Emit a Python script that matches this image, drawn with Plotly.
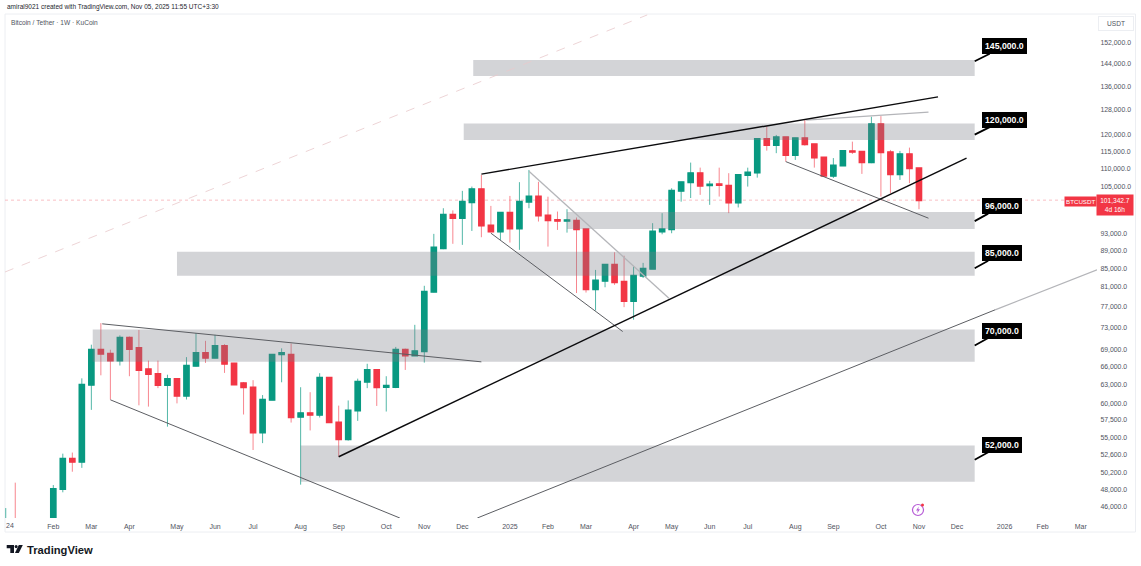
#!/usr/bin/python3

import math
import pandas as pd
import plotly.graph_objects as go

W = 1141
H = 566

# weekly candles, first one is the week of 2024-01-01
weeks = pd.date_range("2024-01-01", periods=97, freq="W-MON")
opens = [42200, 43900, 41700, 41600, 42000, 43000, 48100, 52000, 51600, 62950, 68900, 68200, 67000,
	71050, 69200, 65500, 64700, 62900, 63900, 61200, 66100, 68300, 67500, 69550, 66500, 63200,
	62500, 55650, 60550, 68100, 68000, 57950, 58500, 58250, 64100, 57100, 54700, 58900, 63450,
	65400, 62600, 62600, 68900, 67900, 68650, 80030, 89500, 97570, 96750, 100800, 104250, 94900,
	93450, 98070, 94200, 100950, 102300, 97400, 96300, 96100, 96100, 94000, 80550, 82300, 85770,
	82100, 78150, 83400, 84900, 93450, 94000, 103800, 106150, 108650, 105300, 105600, 105200,
	100700, 108160, 108800, 118670, 116860, 119200, 113880, 118900, 117060, 113100, 107900,
	110800, 115000, 114850, 111760, 123280, 114670, 108370, 114100, 110000]
highs = [45800, 48900, 43000, 42800, 43800, 48600, 52700, 52850, 64000, 69800, 73800, 68900, 71500,
	71300, 72500, 67000, 67000, 64600, 64000, 67600, 71900, 70500, 71600, 69900, 66600, 63400,
	63700, 61300, 68000, 69150, 70000, 62550, 61750, 64850, 64200, 59650, 60450, 63950, 66450,
	65450, 64350, 69400, 69100, 73470, 81250, 92900, 99250, 98700, 103800, 104950, 108150, 99850,
	98100, 102450, 106150, 109550, 106250, 102250, 98400, 99000, 96900, 94100, 84650, 85800, 88600,
	87800, 85400, 86200, 95500, 97990, 104500, 106200, 111650, 110210, 106500, 110200, 108640,
	108200, 110200, 118700, 122500, 119900, 119250, 119000, 124570, 117100, 113150, 112960,
	115100, 117850, 114900, 125670, 125870, 115350, 115060, 116050, 110100]
lows = [40700, 41500, 40500, 38500, 41900, 42500, 47700, 50300, 50800, 59000, 64500, 60600, 66150,
	64350, 59700, 59500, 62400, 56500, 60000, 60600, 66000, 66600, 67400, 64900, 62900, 58300,
	53200, 54150, 60500, 63350, 57100, 48650, 55950, 57850, 57100, 52300, 54500, 57350, 62400,
	59600, 58750, 62400, 65400, 67800, 66650, 79900, 89300, 90550, 90300, 93600, 92100, 93400,
	91450, 90850, 89150, 99250, 95900, 89900, 93850, 93200, 79750, 79850, 76250, 80950, 81450,
	76900, 74450, 82900, 84850, 92800, 93050, 100950, 101900, 102730, 100120, 102280, 98000,
	99450, 104950, 107400, 115150, 114400, 111930, 112420, 116650, 110210, 107560, 107300,
	110750, 114170, 108440, 111480, 102280, 103180, 106770, 105870, 99000]
closes = [43900, 41700, 41600, 42000, 43000, 48100, 52000, 51600, 62950, 68900, 68200, 67000, 71050,
	69050, 65400, 64700, 62900, 63900, 61200, 66100, 68300, 67500, 69550, 66450, 63000, 62550,
	55650, 60550, 68000, 68300, 57900, 58500, 58250, 64100, 57150, 54700, 58900, 63450, 65400,
	62550, 62800, 68900, 67900, 68650, 80030, 89670, 97570, 96750, 100900, 104250, 94900, 93450,
	98070, 94200, 100950, 102300, 97400, 96200, 96100, 96200, 94000, 80550, 82350, 85770, 82000,
	78150, 83400, 84900, 93450, 94000, 103800, 106150, 108650, 105200, 105500, 105400, 100700,
	108160, 108800, 118670, 116860, 119200, 113880, 118900, 117060, 113100, 107900, 110800,
	115060, 114850, 111760, 123280, 114670, 108370, 114100, 110000, 101342]
last_price = 101342

# grey supply/demand zones
zone_starts = ["2024-12-10", "2024-12-03", "2025-02-17", "2024-05-06", "2024-03-05", "2024-08-05"]
zone_end = "2025-12-14"
zone_tops = [145470, 123530, 98320, 88690, 72600, 53830]
zone_bottoms = [139600, 118380, 94100, 83370, 66780, 49010]
zone_labels = ["145,000.0", "120,000.0", "96,000.0", "85,000.0", "70,000.0", "52,000.0"]
label_tips = [145000, 120000, 96000, 85000, 69650, 51880]

# trend lines: start date, start price, end date, end price
black_lines = [
	("2024-09-02", 52280, "2025-12-08", 112960),
	("2024-12-16", 108370, "2025-11-17", 132270),
]
dark_lines = [
	("2024-03-12", 73660, "2024-12-16", 66780),
	("2024-03-18", 60550, "2024-10-17", 44640),
	("2024-12-23", 93070, "2025-03-30", 72210),
	("2025-07-28", 111930, "2025-11-10", 96730),
	("2024-12-13", 44640, "2025-12-29", 76370),
]
light_lines = [
	("2025-01-20", 109200, "2025-05-03", 78700),
	("2025-08-12", 124570, "2025-11-10", 127140),
	("2025-12-29", 76370, "2026-03-14", 84660),
]
dashed_line = ("2023-12-31 11:00", 84200, "2025-04-17", 163400)

price_ticks = [152000, 144000, 136000, 128000, 120000, 115000, 110000, 105000, 93000, 89000, 85000,
	81000, 77000, 73000, 69000, 66000, 63000, 60000, 57500, 55000, 52600, 50200, 48000, 46000]
price_labels = ["152,000.0", "144,000.0", "136,000.0", "128,000.0", "120,000.0", "115,000.0",
	"110,000.0", "105,000.0", "93,000.0", "89,000.0", "85,000.0", "81,000.0", "77,000.0",
	"73,000.0", "69,000.0", "66,000.0", "63,000.0", "60,000.0", "57,500.0", "55,000.0",
	"52,600.0", "50,200.0", "48,000.0", "46,000.0"]
month_ticks = ["2024-02-05", "2024-03-04", "2024-04-01", "2024-05-06", "2024-06-03", "2024-07-01",
	"2024-08-05", "2024-09-02", "2024-10-07", "2024-11-04", "2024-12-02", "2025-01-06",
	"2025-02-03", "2025-03-03", "2025-04-07", "2025-05-05", "2025-06-02", "2025-06-30",
	"2025-08-04", "2025-09-01", "2025-10-06", "2025-11-03", "2025-12-01", "2026-01-05",
	"2026-02-02", "2026-03-02"]
month_labels = ["Feb", "Mar", "Apr", "May", "Jun", "Jul", "Aug", "Sep", "Oct", "Nov", "Dec", "2025",
	"Feb", "Mar", "Apr", "May", "Jun", "Jul", "Aug", "Sep", "Oct", "Nov", "Dec", "2026", "Feb", "Mar"]

GREEN = "#089981"
RED = "#F23645"
TEXT = "#50535e"
FONT = "Liberation Sans"

def px(x):
	return x / W

def py(y):
	return 1 - y / H

def trend_shape(line, color, width, dash="solid"):
	return dict(type="line", x0=line[0], y0=line[1], x1=line[2], y1=line[3], xref="x", yref="y",
		layer="above", line=dict(color=color, width=width, dash=dash))

def box_shape(x0, y0, x1, y1, **kw):
	return dict(type="rect", xref="paper", yref="paper", x0=px(x0), y0=py(y0), x1=px(x1), y1=py(y1), **kw)

def polygon(points, color):
	path = "M " + " L ".join("%f %f" % (px(x), py(y)) for x, y in points) + " Z"
	return dict(type="path", xref="paper", yref="paper", fillcolor=color, line=dict(width=0), path=path)

def text_note(x, y, text, size, color=TEXT, anchor="left", **kw):
	return dict(xref="paper", yref="paper", x=px(x), y=py(y), text=text, showarrow=False, xanchor=anchor,
		yanchor="middle", font=dict(family=FONT, size=size, color=color), **kw)

fig = go.Figure()
# wicks first, a bit washed out like the reference
fig.add_trace(go.Candlestick(x=weeks, open=opens, high=highs, low=lows, close=closes, whiskerwidth=0,
	increasing=dict(line=dict(color="rgba(8,153,129,0.7)", width=1), fillcolor="rgba(8,153,129,0)"),
	decreasing=dict(line=dict(color="rgba(242,54,69,0.6)", width=1), fillcolor="rgba(242,54,69,0)")))
# bodies on top, thick outline to reach the body width
body_high = [max(o, c) for o, c in zip(opens, closes)]
body_low = [min(o, c) for o, c in zip(opens, closes)]
fig.add_trace(go.Candlestick(x=weeks, open=opens, high=body_high, low=body_low, close=closes, whiskerwidth=0,
	increasing=dict(line=dict(color=GREEN, width=2), fillcolor=GREEN),
	decreasing=dict(line=dict(color=RED, width=2), fillcolor=RED)))

shapes = []
# chart frame
shapes.append(box_shape(5, 14, 1135.5, 532, line=dict(color="#eceef2", width=1), layer="below"))
shapes.append(dict(type="line", xref="paper", yref="y", x0=px(5), x1=px(1097), y0=last_price, y1=last_price,
	layer="below", line=dict(color="#f7a3aa", width=0.7, dash="dot")))
for start, top, bottom in zip(zone_starts, zone_tops, zone_bottoms):
	shapes.append(dict(type="rect", xref="x", yref="y", x0=start, x1=zone_end, y0=bottom, y1=top, layer="above",
		fillcolor="rgba(120,123,134,0.33)", line=dict(width=0)))
shapes.append(trend_shape(dashed_line, "#e8c9cb", 0.8, "dash"))
for line in light_lines:
	shapes.append(trend_shape(line, "#b4b5b9", 1.3))
for line in dark_lines:
	shapes.append(trend_shape(line, "#5c5e63", 1))
for line in black_lines:
	shapes.append(trend_shape(line, "#0b0b0d", 1.4))

# small TradingView mark, bottom left
shapes.append(polygon([(6.7, 545), (14, 545), (14, 553), (10.3, 553), (10.3, 548.2), (6.7, 548.2)], "#131722"))
shapes.append(box_shape(14.6, 545, 17.6, 548.2, fillcolor="#131722", line=dict(width=0)) | {"type": "circle"})
shapes.append(polygon([(18.8, 545), (22.8, 545), (18.8, 553), (15, 553)], "#131722"))
# marker above the Nov tick
shapes.append(box_shape(912.5, 504.5, 923.5, 515.5, line=dict(color="#b65bd6", width=1.2)) | {"type": "circle"})
shapes.append(box_shape(921, 503.5, 924, 506.5, fillcolor=RED, line=dict(width=0)) | {"type": "circle"})
shapes.append(polygon([(918.8, 506.5), (916, 510.6), (917.8, 510.6), (917, 513.5), (920, 509.3), (918.2, 509.3)], "#b65bd6"))

notes = []
for text, tip in zip(zone_labels, label_tips):
	wide = len(text) == 9
	notes.append(dict(x=zone_end, y=math.log10(tip), xref="x", yref="y", text="<b>%s</b>" % text,
		showarrow=True, arrowhead=0, arrowwidth=1.8, arrowcolor="#000000", ax=30 if wide else 27, ay=-15,
		bgcolor="#000000", bordercolor="#000000", borderpad=2,
		font=dict(family=FONT, size=8.7, color="#ffffff")))
notes.append(text_note(5, 7, "amiral9021 created with TradingView.com, Nov 05, 2025 11:55 UTC+3:30", 6.5, color="#24262e"))
notes.append(text_note(9, 22.5, "Bitcoin / Tether · 1W · KuCoin", 6.6))
notes.append(text_note(9.5, 525, "24", 7, anchor="center"))
notes.append(text_note(1116, 23.5, "USDT", 6.6, anchor="center", bordercolor="#eceef2", borderpad=3, width=28))
notes.append(text_note(1080.5, 201.5, "BTCUSDT", 6.2, color="#ffffff", anchor="center", bgcolor=RED, borderpad=1))
notes.append(text_note(1115, 205, "101,342.7<br>4d 16h", 6.6, color="#ffffff", anchor="center", bgcolor=RED, borderpad=2, width=32))
notes.append(dict(xref="paper", yref="paper", x=px(25), y=py(549.5), text="<b>TradingView</b>", showarrow=False,
	xanchor="left", yanchor="middle", font=dict(family=FONT, size=11.2, color="#131722")))

fig.update_layout(width=W, height=H, margin=dict(l=0, r=0, t=0, b=0), paper_bgcolor="#ffffff", plot_bgcolor="#ffffff",
	showlegend=False, shapes=shapes, annotations=notes, font=dict(family=FONT, color=TEXT),
	xaxis=dict(domain=[px(5), px(1097)], range=["2023-12-31 11:00", "2026-03-14"], rangeslider=dict(visible=False),
		tickmode="array", tickvals=month_ticks, ticktext=month_labels, tickangle=0, showgrid=False, zeroline=False,
		showline=False, ticks="outside", ticklen=2, tickcolor="#ffffff", tickfont=dict(size=7, color=TEXT)),
	yaxis=dict(domain=[py(518), py(14)], type="log", range=[math.log10(44640), math.log10(163800)], side="right",
		tickmode="array", tickvals=price_ticks, ticktext=price_labels, showgrid=False, zeroline=False, showline=False,
		ticks="outside", ticklen=1, tickcolor="#ffffff", tickfont=dict(size=6.9, color=TEXT)))

fig.write_html("out.html", config=dict(displayModeBar=False), post_script="document.body.style.margin='0';")
